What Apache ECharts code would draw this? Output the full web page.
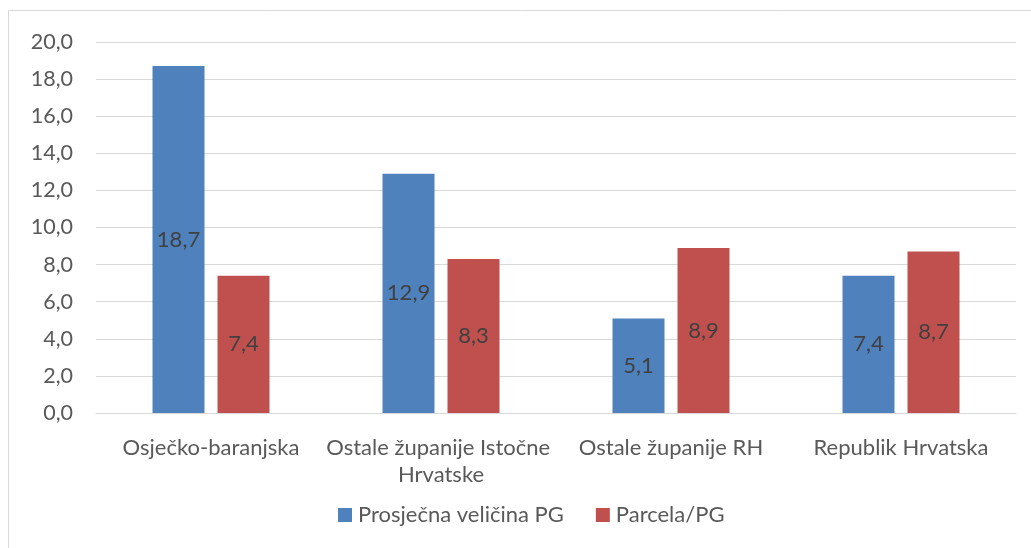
<!DOCTYPE html>
<html><head><meta charset="utf-8">
<script src="https://cdn.jsdelivr.net/npm/echarts@6/dist/echarts.min.js"></script>
<style>html,body{margin:0;padding:0;background:#fff}#c{width:1031px;height:548px}</style>
</head><body><div id="c"></div>
<script>
const categories = ["Osječko-baranjska", "Ostale županije Istočne Hrvatske", "Ostale županije RH", "Republik Hrvatska"];
const seriesNames = ["Prosječna veličina PG", "Parcela/PG"];
const prosjecna = [18.7, 12.9, 5.1, 7.4];
const parcela = [7.4, 8.3, 8.9, 8.7];
const yTicks = {min: 0, max: 20, interval: 2};

const fmt = v => v.toFixed(1).replace('.', ',');
const font = "Lato, 'Open Sans', sans-serif";
const fs = 22;
const chart = echarts.init(document.getElementById('c'));
chart.setOption({
  animation: false,
  textStyle: {fontFamily: font},
  graphic: [{type: 'rect', shape: {x: 8.5, y: 10.5, width: 1100, height: 700},
    style: {fill: 'none', stroke: '#D9D9D9', lineWidth: 1}, silent: true}],
  grid: {left: 96, right: 15, top: 42, bottom: 135, containLabel: false, outerBoundsMode: 'none'},
  legend: {
    data: seriesNames, bottom: 17, left: 333, itemWidth: 14, itemHeight: 14, itemGap: 32,
    icon: 'rect', textStyle: {fontSize: fs, color: '#595959', fontFamily: font, padding: [0, 0, 0, 1]}
  },
  xAxis: {
    type: 'category', data: categories,
    axisLine: {lineStyle: {color: '#D9D9D9'}}, axisTick: {show: false},
    axisLabel: {fontSize: fs, color: '#595959', margin: 21, interval: 0, width: 275, overflow: 'break', lineHeight: 27, fontFamily: font}
  },
  yAxis: {
    type: 'value', min: yTicks.min, max: yTicks.max, interval: yTicks.interval,
    axisLine: {show: false}, axisTick: {show: false},
    splitLine: {lineStyle: {color: '#D9D9D9', width: 1}},
    axisLabel: {fontSize: 21.5, color: '#595959', margin: 23, formatter: v => fmt(v), fontFamily: font}
  },
  series: [
    {name: seriesNames[0], type: 'bar', data: prosjecna, barWidth: 52, barGap: '25%',
     itemStyle: {color: '#4F81BD'},
     label: {show: true, position: 'inside', color: '#404040', fontSize: fs, formatter: p => fmt(p.value), fontFamily: font}},
    {name: seriesNames[1], type: 'bar', data: parcela, barWidth: 52,
     itemStyle: {color: '#C0504D'},
     label: {show: true, position: 'inside', color: '#404040', fontSize: fs, formatter: p => fmt(p.value), fontFamily: font}}
  ]
});
</script></body></html>
